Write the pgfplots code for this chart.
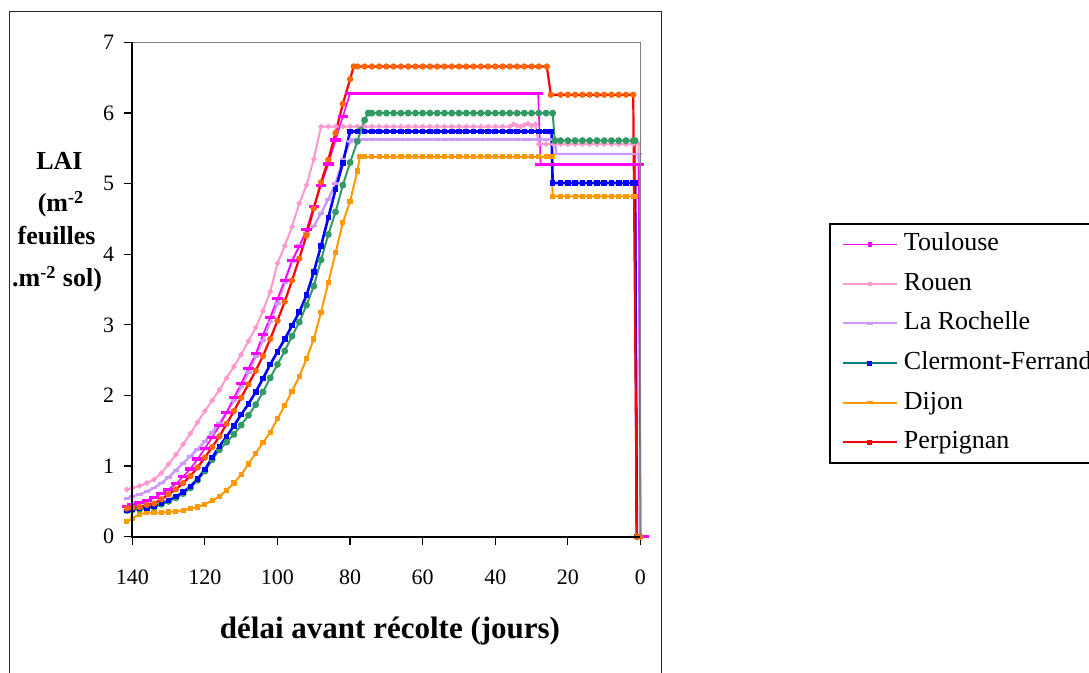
\documentclass[border=0pt]{standalone}
\usepackage{fontspec}
\setmainfont{Liberation Serif}
\usepackage{pgfplots}
\pgfplotsset{compat=1.18}

\definecolor{toul}{HTML}{FF00FF}
\definecolor{rouen}{HTML}{FF99CC}
\definecolor{laro}{HTML}{CC99FF}
\definecolor{clgreen}{HTML}{339966}
\definecolor{clteal}{HTML}{008080}
\definecolor{clblue}{HTML}{0000FF}
\definecolor{dijon}{HTML}{FF9900}
\definecolor{perp}{HTML}{FF0000}
\definecolor{perpmark}{HTML}{FF6600}

\begin{document}
\begin{tikzpicture}[x=1pt,y=1pt]
% outer chart frame
\draw[line width=0.5pt, black!85] (4.5pt,-5.75pt) rectangle (330.5pt,-345pt);

\begin{axis}[
  at={(66.15pt,-268.35pt)}, anchor=south west,
  scale only axis, width=254.1pt, height=247.1pt,
  xmin=0, xmax=140, ymin=0, ymax=7,
  x dir=reverse,
  xtick={0,20,...,140}, ytick={0,1,...,7},
  xtick pos=bottom, ytick pos=left,
  tick align=outside, major tick length=4pt,
  tick style={black, line width=0.6pt},
  axis line style={draw=none},
  clip=false,
  /pgf/number format/assume math mode=true,
  tick label style={font=\fontsize{11}{13}\selectfont},
  xticklabel style={yshift=-9pt},
  yticklabel style={xshift=-1.5pt},
  legend image code/.code={%
    \path (0pt,0pt);
    \draw[mark repeat=2,mark phase=2,#1] plot coordinates {(6pt,0pt) (19.5pt,0pt) (33pt,0pt)};},
  legend style={at={(axis description cs:1.371,0.635)}, anchor=north west,
    draw=black, line width=0.9pt, fill=white,
    inner xsep=0pt, inner ysep=4pt, row sep=7.3pt,
    font=\fontsize{13}{15}\selectfont,
    nodes={inner sep=0pt, text height=9.5pt, text depth=3pt},
    /tikz/every odd column/.append style={column sep=3pt}},
  legend cell align=left,
  after end axis/.code={
    \draw[gray, line width=0.9pt] (axis description cs:0,1) -- (axis description cs:1,1) -- (axis description cs:1,0);
    \draw[black, line width=0.9pt] (axis description cs:0,1) -- (axis description cs:0,0) -- (axis description cs:1,0);
  },
]

% legend entries
\addlegendimage{toul, line width=0.7pt, mark=square*, mark size=0.8pt}
\addlegendentry{Toulouse}
\addlegendimage{rouen, line width=0.7pt, mark=square*, mark size=0.8pt}
\addlegendentry{Rouen}
\addlegendimage{laro, line width=1pt, mark=-, mark size=1.6pt, mark options={line width=1.4pt}}
\addlegendentry{La Rochelle}
\addlegendimage{clteal, line width=0.9pt, mark=square*, mark size=0.8pt, mark options={draw=clblue, fill=clblue}}
\addlegendentry{Clermont-Ferrand}
\addlegendimage{dijon, line width=0.9pt, mark=-, mark size=1.5pt, mark options={line width=1.4pt}}
\addlegendentry{Dijon}
\addlegendimage{perp, line width=0.9pt, mark=square*, mark size=0.8pt}
\addlegendentry{Perpignan}

% Rouen
\addplot[forget plot, rouen, line width=1pt, mark=*, mark size=0.8pt, mark options={solid}] coordinates {
(141.5,0.67) (140,0.69) (138,0.72) (136,0.76) (134,0.81) (132,0.90) (130,1.03) (128,1.16)
(126,1.31) (124,1.46) (122,1.62) (120,1.78) (118,1.93) (116,2.08) (114,2.25) (112,2.41)
(110,2.58) (108,2.77) (106,2.96) (104,3.20) (102,3.47) (100,3.87) (98,4.12) (96,4.39)
(94,4.72) (92,4.98) (90,5.35) (88,5.81)
(86,5.81) (84,5.81) (82,5.81) (80,5.81) (78,5.81) (76,5.81) (74,5.81) (72,5.81) (70,5.81)
(68,5.81) (66,5.81) (64,5.81) (62,5.81) (60,5.81) (58,5.81) (56,5.81) (54,5.81) (52,5.81)
(50,5.81) (48,5.81) (46,5.81) (44,5.81) (42,5.81) (40,5.81) (38,5.81) (36,5.81)
(35,5.84) (34,5.82) (33,5.81) (32,5.83) (31,5.85) (30,5.82) (29,5.84) (28,5.56)
(26,5.56) (24,5.56) (22,5.56) (20,5.56) (18,5.56) (16,5.56) (14,5.56) (12,5.56) (10,5.56)
(8,5.56) (6,5.56) (4,5.56) (2,5.56) (0.5,5.56) (0,0)
};

% La Rochelle
\addplot[forget plot, laro, line width=1.2pt, mark=-, mark size=1.6pt, mark options={solid, line width=1.4pt}] coordinates {
(141.5,0.54) (140,0.57) (138,0.60) (136,0.64) (134,0.69) (132,0.76) (130,0.84) (128,0.94)
(126,1.04) (124,1.14) (122,1.24) (120,1.35) (118,1.48) (116,1.61) (114,1.76) (112,1.93)
(110,2.12) (108,2.33) (106,2.55) (104,2.78) (102,3.04) (100,3.30) (98,3.60) (96,3.90)
(94,4.12) (92,4.30) (90,4.40) (88,4.58) (86,4.78) (84,5.00) (82,5.35) (80,5.60) (79.5,5.63)
(78,5.63) (76,5.63) (74,5.63) (72,5.63) (70,5.63) (68,5.63) (66,5.63) (64,5.63) (62,5.63)
(60,5.63) (58,5.63) (56,5.63) (54,5.63) (52,5.63) (50,5.63) (48,5.63) (46,5.63) (44,5.63)
(42,5.63) (40,5.63) (38,5.63) (36,5.63) (34,5.63) (32,5.63) (30,5.63) (28,5.63) (26,5.63)
(24,5.63) (23.6,5.63) (23.2,5.42)
(22,5.42) (20,5.42) (18,5.42) (16,5.42) (14,5.42) (12,5.42) (10,5.42) (8,5.42) (6,5.42)
(4,5.42) (2,5.42) (0.5,5.42) (0,0)
};

% Dijon
\addplot[forget plot, dijon, line width=1pt, mark=square*, mark size=0.8pt, mark options={solid}] coordinates {
(141.5,0.21) (140,0.26) (138,0.32) (136,0.34) (134,0.34) (132,0.34) (130,0.35) (128,0.36)
(126,0.37) (124,0.40) (122,0.42) (120,0.46) (118,0.51) (116,0.57) (114,0.66) (112,0.76)
(110,0.88) (108,1.03) (106,1.18) (104,1.33) (102,1.48) (100,1.67) (98,1.86) (96,2.06)
(94,2.27) (92,2.52) (90,2.80) (88,3.18) (86,3.60) (84,4.02) (82,4.45) (80,4.75) (78,5.18)
(77.3,5.38)
(76,5.38) (74,5.38) (72,5.38) (70,5.38) (68,5.38) (66,5.38) (64,5.38) (62,5.38) (60,5.38)
(58,5.38) (56,5.38) (54,5.38) (52,5.38) (50,5.38) (48,5.38) (46,5.38) (44,5.38) (42,5.38)
(40,5.38) (38,5.38) (36,5.38) (34,5.38) (32,5.38) (30,5.38) (28,5.38) (26,5.38) (24.4,5.38)
(24.2,4.82)
(22,4.82) (20,4.82) (18,4.82) (16,4.82) (14,4.82) (12,4.82) (10,4.82) (8,4.82) (6,4.82)
(4,4.82) (2,4.82) (1.5,4.82) (1,0)
};

% Clermont-Ferrand (green)
\addplot[forget plot, clgreen, line width=1pt, mark=*, mark size=1.2pt, mark options={solid}] coordinates {
(141.5,0.37) (140,0.38) (138,0.39) (136,0.41) (134,0.42) (132,0.46) (130,0.50) (128,0.55)
(126,0.61) (124,0.69) (122,0.80) (120,0.93) (118,1.09) (116,1.23) (114,1.34) (112,1.45)
(110,1.58) (108,1.72) (106,1.87) (104,2.05) (102,2.25) (100,2.44) (98,2.63) (96,2.84)
(94,3.04) (92,3.28) (90,3.55) (88,3.92) (86,4.28) (84,4.60) (82,4.98) (80,5.30) (78,5.60)
(77,5.76) (76,5.90) (75,6.00)
(74,6.00) (72,6.00) (70,6.00) (68,6.00) (66,6.00) (64,6.00) (62,6.00) (60,6.00) (58,6.00)
(56,6.00) (54,6.00) (52,6.00) (50,6.00) (48,6.00) (46,6.00) (44,6.00) (42,6.00) (40,6.00)
(38,6.00) (36,6.00) (34,6.00) (32,6.00) (30,6.00) (28,6.00) (26,6.00) (24.2,6.00) (23.6,5.61)
(22,5.61) (20,5.61) (18,5.61) (16,5.61) (14,5.61) (12,5.61) (10,5.61) (8,5.61) (6,5.61)
(4,5.61) (2,5.61) (1.5,5.61) (1,0)
};

% blue series
\addplot[forget plot, clblue, line width=1.3pt, mark=square*, mark size=0.75pt, mark options={solid}] coordinates {
(141.5,0.38) (140,0.39) (138,0.40) (136,0.41) (134,0.43) (132,0.47) (130,0.51) (128,0.57)
(126,0.63) (124,0.71) (122,0.82) (120,0.95) (118,1.12) (116,1.28) (114,1.42) (112,1.57)
(110,1.73) (108,1.88) (106,2.05) (104,2.24) (102,2.44) (100,2.62) (98,2.80) (96,2.99)
(94,3.18) (92,3.42) (90,3.75) (88,4.12) (86,4.52) (84,4.92) (82,5.29) (80,5.74)
(78,5.74) (76,5.74) (74,5.74) (72,5.74) (70,5.74) (68,5.74) (66,5.74) (64,5.74) (62,5.74)
(60,5.74) (58,5.74) (56,5.74) (54,5.74) (52,5.74) (50,5.74) (48,5.74) (46,5.74) (44,5.74)
(42,5.74) (40,5.74) (38,5.74) (36,5.74) (34,5.74) (32,5.74) (30,5.74) (28,5.74) (26,5.74)
(24.5,5.74) (24.2,5.01)
(22,5.01) (20,5.01) (18,5.01) (16,5.01) (14,5.01) (12,5.01) (10,5.01) (8,5.01) (6,5.01)
(4,5.01) (2,5.01) (1.5,5.01) (1,0)
};

% Toulouse
\addplot[forget plot, toul, line width=0.8pt, mark=-, mark size=2.6pt, mark options={solid, line width=1.6pt}] coordinates {
(141.5,0.43) (140,0.45) (138,0.48) (136,0.51) (134,0.55) (132,0.61) (130,0.67) (128,0.75)
(126,0.85) (124,0.96) (122,1.10) (120,1.25) (118,1.41) (116,1.57) (114,1.76) (112,1.97)
(110,2.17) (108,2.38) (106,2.59) (104,2.86) (102,3.11) (100,3.37) (98,3.63) (96,3.91)
(94,4.11) (92,4.35) (90,4.68) (88,4.98) (86,5.28) (84,5.62) (82,5.95) (80,6.28)
(78,6.28) (76,6.28) (74,6.28) (72,6.28) (70,6.28) (68,6.28) (66,6.28) (64,6.28) (62,6.28)
(60,6.28) (58,6.28) (56,6.28) (54,6.28) (52,6.28) (50,6.28) (48,6.28) (46,6.28) (44,6.28)
(42,6.28) (40,6.28) (38,6.28) (36,6.28) (34,6.28) (32,6.28) (30,6.28) (28.2,6.28) (27.5,5.27)
(26,5.27) (24,5.27) (22,5.27) (20,5.27) (18,5.27) (16,5.27) (14,5.27) (12,5.27) (10,5.27)
(8,5.27) (6,5.27) (4,5.27) (2,5.27) (0.5,5.27) (0,0) (-1,0)
};

% Perpignan
\addplot[forget plot, perp, line width=1.1pt, mark=*, mark size=1pt, mark options={solid, draw=perpmark, fill=perpmark}] coordinates {
(141.5,0.40) (140,0.41) (138,0.42) (136,0.45) (134,0.47) (132,0.53) (130,0.60) (128,0.67)
(126,0.76) (124,0.86) (122,0.98) (120,1.12) (118,1.27) (116,1.42) (114,1.60) (112,1.78)
(110,1.97) (108,2.16) (106,2.35) (104,2.56) (102,2.80) (100,3.06) (98,3.33) (96,3.63)
(94,3.94) (92,4.27) (90,4.65) (88,5.02) (86,5.34) (84,5.72) (82,6.13) (80,6.48) (79,6.66)
(78,6.66) (76,6.66) (74,6.66) (72,6.66) (70,6.66) (68,6.66) (66,6.66) (64,6.66) (62,6.66)
(60,6.66) (58,6.66) (56,6.66) (54,6.66) (52,6.66) (50,6.66) (48,6.66) (46,6.66) (44,6.66)
(42,6.66) (40,6.66) (38,6.66) (36,6.66) (34,6.66) (32,6.66) (30,6.66) (28,6.66) (25.8,6.66)
(24.7,6.26)
(22,6.26) (20,6.26) (18,6.26) (16,6.26) (14,6.26) (12,6.26) (10,6.26) (8,6.26) (6,6.26)
(4,6.26) (2,6.26) (1,0) (0,0)
};
\end{axis}

% axis titles
\node[anchor=base, font=\fontsize{13}{15}\selectfont\bfseries] at (29.75pt,-84.75pt) {LAI};
\node[anchor=base, font=\fontsize{13}{15}\selectfont\bfseries] at (30.5pt,-106pt) {(m\textsuperscript{-2}};
\node[anchor=base, font=\fontsize{13}{15}\selectfont\bfseries] at (28.3pt,-122.5pt) {feuilles};
\node[anchor=base, font=\fontsize{13}{15}\selectfont\bfseries] at (28.5pt,-143.5pt) {.m\textsuperscript{-2} sol)};
\node[anchor=base, font=\fontsize{15.5}{18}\selectfont\bfseries] at (195pt,-319.5pt) {délai avant récolte (jours)};

\pgfresetboundingbox
\useasboundingbox (0pt,0pt) rectangle (544.5pt,-336.5pt);
\end{tikzpicture}
\end{document}
